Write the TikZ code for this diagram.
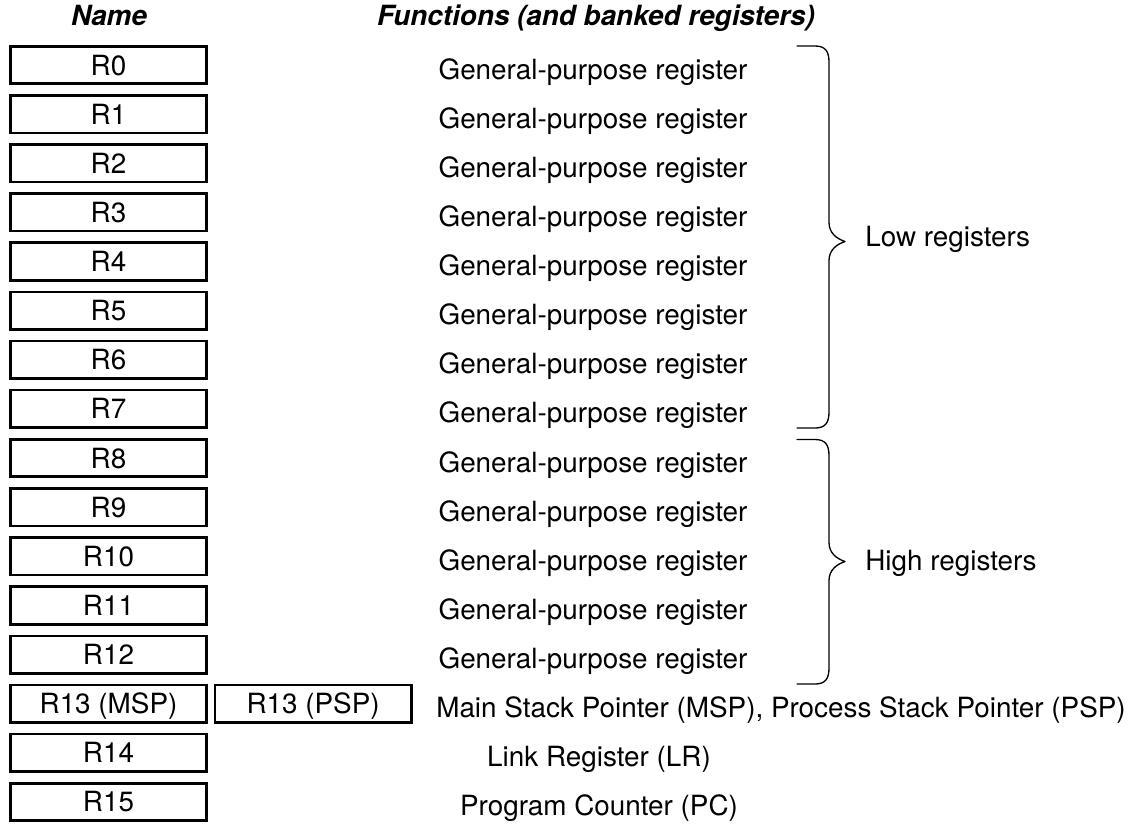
\documentclass[tikz,border=0pt]{standalone}
\usepackage{fontspec}
\setmainfont{TeX Gyre Heros}
\usepackage{tikz}
\usetikzlibrary{positioning}
\tikzset{
  reg/.style={draw=black, line width=1.5pt, rectangle, inner sep=0pt,
    minimum width=3.93cm, minimum height=0.75cm, text height=11.4pt, text depth=0pt},
  func/.style={anchor=base, inner sep=0pt},
  head/.style={anchor=base, inner sep=0pt, font=\bfseries\itshape},
  brace/.style={draw=black, line width=0.75pt, line cap=round, line join=round},
  grp/.style={anchor=base west, inner sep=0pt},
}
\begin{document}
\begin{tikzpicture}[x=0.02cm, y=-0.02cm]
  \fontsize{15.85}{18}\selectfont
  \useasboundingbox (0,0) rectangle (1131,836);
  \def\pitch{49.13}
  % column heads
  \node[head] (hname) at (109,25) {Name};
  \node[head] (hfunc) at (596,25) {Functions (and banked registers)};
  % general-purpose registers
  \foreach \i in {0,...,12} {
    \node[reg] (r\i) at (108.5,{65+\pitch*\i}) {R\i};
    \node[func] (f\i) at (593,{79+\pitch*\i}) {General-purpose register};
  }
  % special registers
  \node[reg] (r13) at (108.5,{65+\pitch*13}) {R13 (MSP)};
  \node[reg, right=0.11cm of r13] (psp) {R13 (PSP)};
  \node[func] (f13) at (781,{79+\pitch*13}) {Main Stack Pointer (MSP), Process Stack Pointer (PSP)};
  \node[reg] (r14) at (108.5,{65+\pitch*14}) {R14};
  \node[func] (f14) at (599,{79+\pitch*14}) {Link Register (LR)};
  \node[reg] (r15) at (108.5,{65+\pitch*15}) {R15};
  \node[func] (f15) at (599,{79+\pitch*15}) {Program Counter (PC)};
  % braces
  \foreach \t/\m/\b in {46/241.5/428, 439.5/561.5/684} {
    \draw[brace] (797,\t) -- (815,\t) .. controls (825,\t) and (829,\t+5) .. (829,\t+16)
      -- (829,\m-19) .. controls (829,\m-9) and (836,\m-3) .. (845,\m)
      .. controls (836,\m+3) and (829,\m+9) .. (829,\m+19)
      -- (829,\b-16) .. controls (829,\b-5) and (825,\b) .. (815,\b) -- (797,\b);
  }
  \node[grp] (low) at (865,246) {Low registers};
  \node[grp] (high) at (865,570) {High registers};
\end{tikzpicture}
\end{document}
